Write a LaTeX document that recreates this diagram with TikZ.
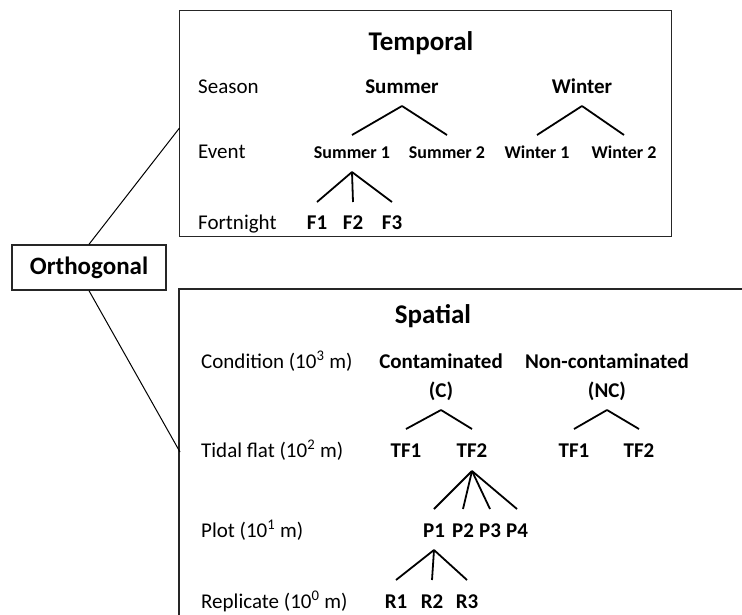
\documentclass[tikz,border=0pt]{standalone}
\usepackage{fontspec}
\setmainfont{Carlito}
\begin{document}
\begin{tikzpicture}[x=1pt,y=-1pt,
  lab/.style={anchor=base west,inner sep=0pt,font=\fontsize{21}{25}\selectfont},
  bl/.style={anchor=base,inner sep=0pt,font=\fontsize{21}{25}\selectfont\bfseries},
  ev/.style={anchor=base,inner sep=0pt,font=\fontsize{18}{22}\selectfont\bfseries},
  ttl/.style={anchor=base,inner sep=0pt,font=\fontsize{27}{32}\selectfont\bfseries},
  br/.style={line width=1.8pt},
  frame/.style={line width=1.4pt,draw=black!85},
  conn/.style={line width=1pt}]
\useasboundingbox (0,0) rectangle (742,614);
\clip (0,0) rectangle (742,614);

% boxes
\node[frame,draw,minimum width=492pt,minimum height=226pt,anchor=north west,inner sep=0pt] (tbox) at (179,10) {};
\draw[frame] (179,630) -- (179,289) -- (760,289);
\node[frame,draw,minimum width=154pt,minimum height=45pt,inner sep=0pt,
      font=\fontsize{25}{30}\selectfont\bfseries] (orth) at (89,267.5) {Orthogonal};
\coordinate (tin) at (179.5,128);
\coordinate (sin) at (180,452);
\draw[conn] (orth.north) -- (tin);
\draw[conn] (orth.south) -- (sin);

% Temporal
\node[ttl] (ttitle) at (421,50) {Temporal};
\node[lab] (season) at (198,93) {Season};
\node[lab] (event) at (198,158) {Event};
\node[lab] (fortn) at (198,229) {Fortnight};
\node[bl] (summer) at (402,93) {Summer};
\node[bl] (winter) at (582,93) {Winter};
\node[ev] (s1) at (352,158) {Summer 1};
\node[ev] (s2) at (447,158) {Summer 2};
\node[ev] (w1) at (537,158) {Winter 1};
\node[ev] (w2) at (624,158) {Winter 2};
\node[bl] (f1) at (317,229) {F1};
\node[bl] (f2) at (353,229) {F2};
\node[bl] (f3) at (392,229) {F3};

\foreach \p/\c in {summer/s1,summer/s2,winter/w1,winter/w2}
  \draw[br] ([yshift=-13pt]\p.base) -- ([yshift=23pt]\c.base);
\foreach \c in {f1,f2,f3}
  \draw[br] ([yshift=-14pt]s1.base) -- ([yshift=27pt]\c.base);

% Spatial
\node[ttl] (stitle) at (433,323) {Spatial};
\node[lab] (cond) at (201,368) {Condition (10\textsuperscript{3} m)};
\node[lab] (tidal) at (201,457) {Tidal flat (10\textsuperscript{2} m)};
\node[lab] (plot) at (201,537) {Plot (10\textsuperscript{1} m)};
\node[lab] (repl) at (201,608) {Replicate (10\textsuperscript{0} m)};
\node[bl] (cont) at (441,368) {Contaminated};
\node[bl] (contc) at (441,397) {(C)};
\node[bl] (ncont) at (607,368) {Non-contaminated};
\node[bl] (ncontc) at (607,397) {(NC)};
\node[bl] (tfa) at (406,457) {TF1};
\node[bl] (tfb) at (472,457) {TF2};
\node[bl] (tfc) at (574,457) {TF1};
\node[bl] (tfd) at (639,457) {TF2};
\node[bl] (p1) at (434,537) {P1};
\node[bl] (p2) at (463,537) {P2};
\node[bl] (p3) at (490,537) {P3};
\node[bl] (p4) at (517,537) {P4};
\node[bl] (r1) at (396,608) {R1};
\node[bl] (r2) at (432,608) {R2};
\node[bl] (r3) at (467,608) {R3};

\foreach \p/\c in {contc/tfa,contc/tfb,ncontc/tfc,ncontc/tfd}
  \draw[br] ([yshift=-13pt]\p.base) -- ([yshift=28pt]\c.base);
\foreach \c in {p1,p2,p3,p4}
  \draw[br] ([yshift=-14pt]tfb.base) -- ([yshift=28pt]\c.base);
\foreach \c in {r1,r2,r3}
  \draw[br] ([yshift=-13pt]p1.base) -- ([yshift=28pt]\c.base);
\end{tikzpicture}
\end{document}
